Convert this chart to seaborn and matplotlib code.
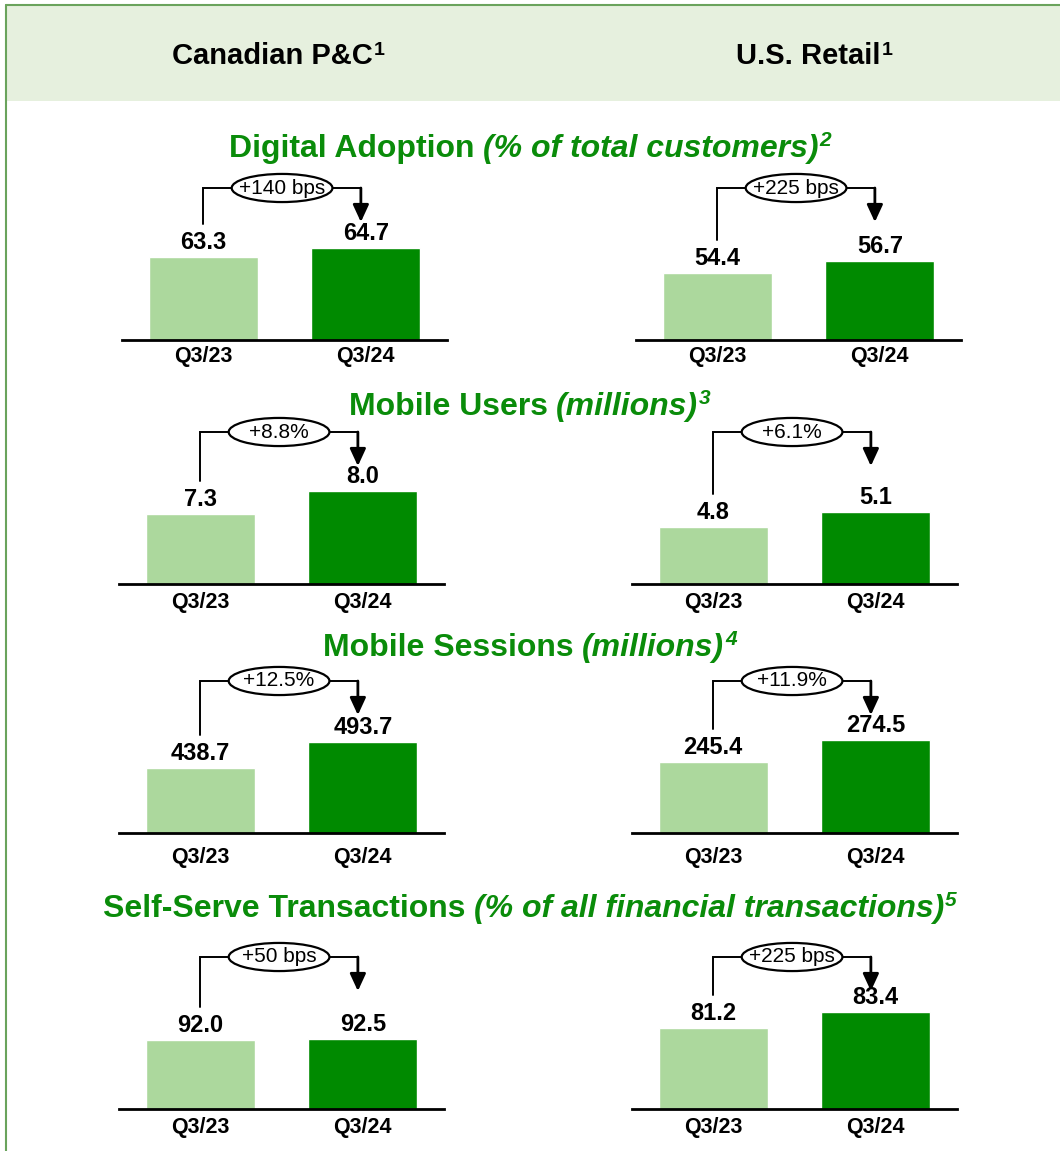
import matplotlib
matplotlib.use('Agg')
import matplotlib.pyplot as plt
import pandas as pd
import seaborn as sns
from matplotlib.patches import Ellipse, Rectangle
from matplotlib.lines import Line2D
from matplotlib.transforms import blended_transform_factory

# data
categories = ['Q3/23', 'Q3/24']
segments = ['Canadian P&C', 'U.S. Retail']

cad_digital = [63.3, 64.7]
us_digital = [54.4, 56.7]
cad_users = [7.3, 8.0]
us_users = [4.8, 5.1]
cad_sessions = [438.7, 493.7]
us_sessions = [245.4, 274.5]
cad_selfserve = [92.0, 92.5]
us_selfserve = [81.2, 83.4]

cad_change = ['+140 bps', '+8.8%', '+12.5%', '+50 bps']
us_change = ['+225 bps', '+6.1%', '+11.9%', '+225 bps']

titles = [('Digital Adoption', '(% of total customers)', '2'),
          ('Mobile Users', '(millions)', '3'),
          ('Mobile Sessions', '(millions)', '4'),
          ('Self-Serve Transactions', '(% of all financial transactions)', '5')]

cad_rows = [cad_digital, cad_users, cad_sessions, cad_selfserve]
us_rows = [us_digital, us_users, us_sessions, us_selfserve]

# layout / style
LIGHT = '#acd89d'
DARK = '#008a00'
TITLE_GREEN = '#0a8c0a'
W, H = 1060, 1151

row_base = [340, 584, 833, 1109]
left_x0 = [122, 119, 119, 119]
right_x0 = [636, 632, 632, 632]
panel_w, panel_h = 325, 152
cad_ylim = [(50.4, 74.0), (5.17, 9.80), (301.2, 622.8), (57.5, 133.5)]
us_ylim = [(41.56, 70.7), (3.66, 6.70), (151.5, 352.6), (70.06, 90.97)]
tick_pad = [4, 6, 10, 6]
title_base = [157, 415, 656, 917]

sns.set_style('white')
plt.rcParams['font.family'] = ['Liberation Sans', 'DejaVu Sans']
plt.rcParams['text.color'] = 'black'
plt.rcParams['xtick.color'] = 'black'

fig = plt.figure(figsize=(W / 100, H / 100), dpi=100)


def fx(px):
    return px / W


def fy(py):
    return 1 - py / H


def rich_line(cx, base, parts):
    # parts: (text, kwargs, raise_px, gap_before_px)
    r = fig.canvas.get_renderer()
    arts = []
    for s, kw, dy, gap in parts:
        t = fig.text(0, 0, s, ha='left', va='baseline', **kw)
        arts.append((t, dy, gap))
    widths = [t.get_window_extent(r).width for t, _, _ in arts]
    total = sum(widths) + sum(g for _, _, g in arts)
    x = cx - total / 2
    for (t, dy, gap), w in zip(arts, widths):
        x += gap
        t.set_position((fx(x), fy(base - dy)))
        x += w


# header band and frame
fig.add_artist(Rectangle((fx(6), fy(101)), 1 - fx(6), fy(5) - fy(101),
                         transform=fig.transFigure, facecolor='#e6f0de',
                         edgecolor='none', zorder=0))
fig.add_artist(Line2D([fx(6), 1], [fy(5), fy(5)], color='#6aa35c', lw=1.5,
                      transform=fig.transFigure))
fig.add_artist(Line2D([fx(6), fx(6)], [fy(5), 0], color='#6aa35c', lw=1.5,
                      transform=fig.transFigure))

for seg, cx in zip(segments, [278, 814]):
    rich_line(cx, 64, [(seg, dict(fontsize=21, fontweight='bold', color='black'), 0, 0),
                       ('1', dict(fontsize=14, fontweight='bold', color='black'), 9, 1)])

for (main, ital, sup), base in zip(titles, title_base):
    rich_line(530, base, [
        (main, dict(fontsize=23, fontweight='bold', color=TITLE_GREEN), 0, 0),
        (ital, dict(fontsize=23, fontweight='bold', fontstyle='italic',
                    color=TITLE_GREEN), 0, 8),
        (sup, dict(fontsize=15, fontweight='bold', fontstyle='italic',
                   color=TITLE_GREEN), 11, 1)])


def draw_panel(ax, vals, change, ylim, pad):
    df = pd.DataFrame({'quarter': categories, 'value': vals})
    sns.barplot(data=df, x='quarter', y='value', hue='quarter',
                palette=[LIGHT, DARK], width=0.67, saturation=1,
                legend=False, ax=ax)
    ax.set_xlim(-0.5, 1.5)
    ax.set_ylim(*ylim)
    ax.patch.set_alpha(0)
    for c in ax.containers:
        ax.bar_label(c, fmt='%.1f', padding=2, fontsize=17, fontweight='bold',
                     color='black')
    for s in ['left', 'top', 'right']:
        ax.spines[s].set_visible(False)
    ax.spines['bottom'].set_linewidth(2)
    ax.spines['bottom'].set_color('black')
    ax.set_yticks([])
    ax.set_xlabel('')
    ax.set_ylabel('')
    ax.tick_params(axis='x', length=0, pad=pad, labelsize=15.5, labelcolor='black')
    for lbl in ax.get_xticklabels():
        lbl.set_fontweight('bold')

    # change bracket
    tr = blended_transform_factory(ax.transData, ax.transAxes)
    lo, hi = ylim
    y_left = (vals[0] - lo) / (hi - lo) + 33 / panel_h
    ax.plot([0, 0, 0.97], [y_left, 1, 1], transform=tr, color='black',
            lw=1.4, clip_on=False, solid_joinstyle='miter')
    ax.annotate('', xy=(0.97, 0.776), xytext=(0.97, 1.0), xycoords=tr,
                textcoords=tr, annotation_clip=False,
                arrowprops=dict(arrowstyle='-|>,head_length=0.65,head_width=0.3',
                                color='black', lw=2, shrinkA=0, shrinkB=0,
                                mutation_scale=16))
    ax.add_patch(Ellipse((0.485, 1.0), width=0.62, height=0.185, transform=tr,
                         facecolor='white', edgecolor='black', lw=1.6,
                         clip_on=False, zorder=5))
    ax.text(0.485, 1.0, change, transform=tr, ha='center', va='center',
            fontsize=15, zorder=6, color='black')


for i in range(4):
    for x0, vals, change, ylim in [(left_x0[i], cad_rows[i], cad_change[i], cad_ylim[i]),
                                   (right_x0[i], us_rows[i], us_change[i], us_ylim[i])]:
        ax = fig.add_axes([fx(x0), fy(row_base[i]), panel_w / W, panel_h / H])
        draw_panel(ax, vals, change, ylim, tick_pad[i])

fig.savefig('out.png', dpi=100)
